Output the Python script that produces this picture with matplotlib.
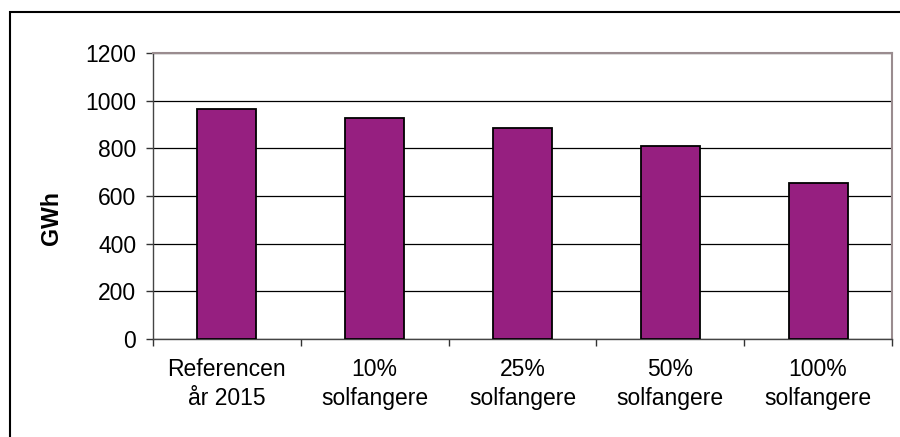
import matplotlib
matplotlib.use("Agg")
import matplotlib.pyplot as plt
from matplotlib.patches import Rectangle

categories = ["Referencen\når 2015", "10%\nsolfangere", "25%\nsolfangere",
              "50%\nsolfangere", "100%\nsolfangere"]
values = [963, 929, 887, 810, 656]
yticks = [0, 200, 400, 600, 800, 1000, 1200]

plt.rcParams['font.family'] = ['Liberation Sans', 'DejaVu Sans']

fig = plt.figure(figsize=(9, 4.37), dpi=100)
ax = fig.add_axes([153/900, 1-339/437, (892-153)/900, (339-53)/437])

# outer chart border (cropped at right/bottom)
fig.patches.append(Rectangle((10/900, -0.1), 1.2, (437-12)/437 + 0.1,
                             transform=fig.transFigure, fill=False,
                             edgecolor='black', linewidth=1.5))

x = list(range(len(categories)))
ax.bar(x, values, width=0.4, color='#961F80', edgecolor='black',
       linewidth=1.3, zorder=3)

ax.set_xlim(-0.5, len(categories) - 0.5)
ax.set_ylim(0, 1200)
ax.set_yticks(yticks)
ax.set_yticklabels([str(v) for v in yticks], fontsize=16.5)
ax.yaxis.grid(True, color='black', linewidth=0.9, zorder=0)
ax.set_axisbelow(True)

ax.set_xticks([i + 0.5 for i in range(-1, len(categories))])
ax.set_xticklabels([])
ax.set_xticks(x, minor=True)
ax.set_xticklabels(categories, minor=True, fontsize=16.5, linespacing=1.3)
ax.tick_params(axis='x', which='minor', length=0, pad=14)
ax.tick_params(axis='x', which='major', length=5, width=1, color='#333333',
               direction='out')
ax.tick_params(axis='y', length=5, width=1, color='#333333', pad=7)

for side in ['top', 'right']:
    ax.spines[side].set_color('#9A8C8F')
    ax.spines[side].set_linewidth(1.5)
for side in ['left', 'bottom']:
    ax.spines[side].set_color('#444444')
    ax.spines[side].set_linewidth(1.0)

ax.set_ylabel("GWh", fontsize=16.7, fontweight='bold')
ax.yaxis.set_label_coords(63/900, 0.5, transform=fig.transFigure)

fig.savefig("out.png", dpi=100)
